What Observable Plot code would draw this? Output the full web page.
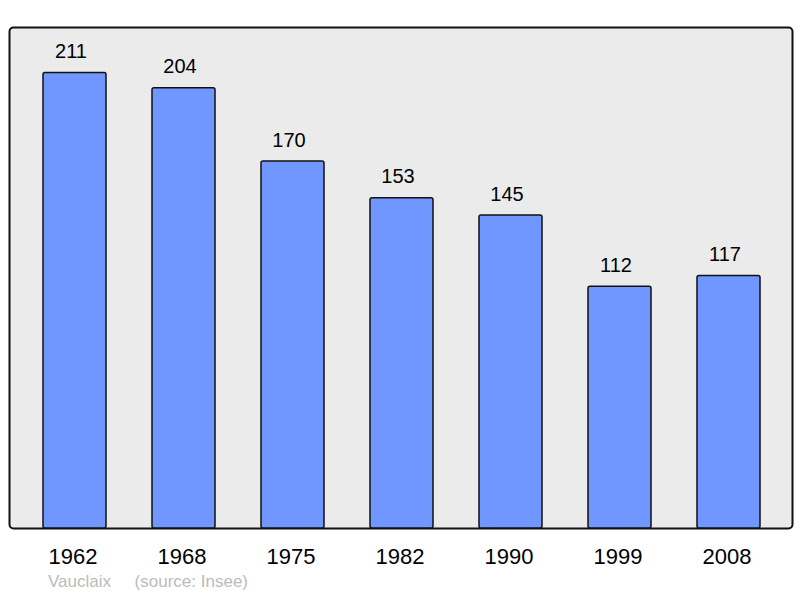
<!DOCTYPE html>
<html>
<head>
<meta charset="utf-8">
<script src="https://cdn.jsdelivr.net/npm/d3@7"></script>
<script src="https://cdn.jsdelivr.net/npm/@observablehq/plot@0.6"></script>
<style>
  body { margin: 0; background: #fff; font-family: "Liberation Sans", Arial, sans-serif; }
  #caption { white-space: pre; color: #bbbbbb; font-size: 17px; padding-left: 48px; margin-top: 2px; line-height: 20px; }
</style>
</head>
<body>
<div id="chart"></div>
<div id="caption"></div>
<script>
const years = ["1962", "1968", "1975", "1982", "1990", "1999", "2008"];
const population = [211, 204, 170, 153, 145, 112, 117];
const captionText = "Vauclaix     (source: Insee)";

const data = years.map((year, i) => ({year, value: population[i]}));

const chart = Plot.plot({
  width: 800,
  height: 570,
  marginTop: 27,
  marginBottom: 42,
  marginLeft: 9,
  marginRight: 6,
  style: {fontFamily: "'Liberation Sans', Arial, sans-serif", background: "white"},
  x: {domain: years, paddingInner: 0.42, paddingOuter: 0.3, label: null},
  y: {domain: [0, 232.1], axis: null},
  marks: [
    Plot.frame({fill: "#ebebeb", stroke: "#111", strokeWidth: 2, rx: 4, insetRight: 2}),
    Plot.barY(data, {x: "year", y: "value", fill: "#7097ff", stroke: "#111", strokeWidth: 1.5, rx: 2}),
    Plot.text(data, {x: "year", y: "value", text: d => String(d.value), lineAnchor: "bottom", dy: -15, dx: -4, fontSize: 20, fill: "#000"}),
    Plot.axisX({tickSize: 0, tickPadding: 20, fontSize: 22, dx: -2, label: null, color: "#000"})
  ]
});
document.getElementById("chart").append(chart);
document.getElementById("caption").textContent = captionText;
</script>
</body>
</html>
